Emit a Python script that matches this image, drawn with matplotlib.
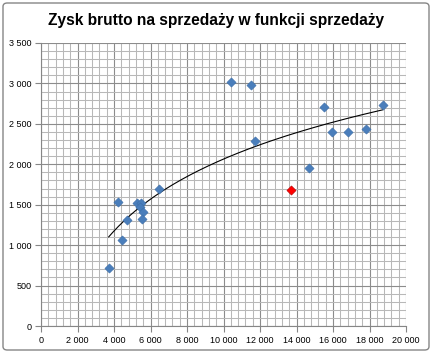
import numpy as np
import matplotlib
matplotlib.use("Agg")
import matplotlib.pyplot as plt
from matplotlib.patches import FancyBboxPatch
from matplotlib.ticker import MultipleLocator, FuncFormatter

title = "Zysk brutto na sprzedaży w funkcji sprzedaży"
sales = [3710, 4236, 4455, 4729, 5277, 5479, 5425, 5573, 5534, 6466,
         10429, 11490, 11742, 14685, 15490, 15945, 16822, 17808, 18721]
profit = [714, 1537, 1067, 1315, 1518, 1518, 1476, 1414, 1327, 1691,
          3014, 2977, 2292, 1958, 2709, 2403, 2395, 2432, 2738]
red_sales = [13699]
red_profit = [1686]

fig = plt.figure(figsize=(4.32, 3.53), dpi=100)
ax = fig.add_axes([41/432, 27/353, 365/432, 283/353])

ax.set_xlim(0, 20000)
ax.set_ylim(0, 3500)
ax.xaxis.set_major_locator(MultipleLocator(2000))
ax.xaxis.set_minor_locator(MultipleLocator(400))
ax.yaxis.set_major_locator(MultipleLocator(500))
ax.yaxis.set_minor_locator(MultipleLocator(100))
ax.grid(which="minor", color="#b8b8b8", linewidth=0.75)
ax.grid(which="major", color="#8c8c8c", linewidth=0.8)
ax.set_axisbelow(True)

fmt = FuncFormatter(lambda v, p: f"{int(v):,}".replace(",", " "))
ax.xaxis.set_major_formatter(fmt)
ax.yaxis.set_major_formatter(fmt)
ax.tick_params(which="major", length=4, width=0.8, color="#868686",
               labelsize=6.5, pad=3)
ax.tick_params(which="minor", length=0)
for lab in ax.get_xticklabels() + ax.get_yticklabels():
    lab.set_family("Liberation Sans")

for s in ["top", "right"]:
    ax.spines[s].set_visible(False)
for s in ["left", "bottom"]:
    ax.spines[s].set_color("#868686")
    ax.spines[s].set_linewidth(0.8)

# logarithmic trendline fitted on all points
xs_all = np.array(sales + red_sales, dtype=float)
ys_all = np.array(profit + red_profit, dtype=float)
a, b = np.polyfit(np.log(xs_all), ys_all, 1)
xt = np.linspace(xs_all.min(), xs_all.max(), 200)
ax.plot(xt, a * np.log(xt) + b, color="black", linewidth=0.8, zorder=2)

ax.scatter(sales, profit, marker="D", s=22, color="#4a7ebb",
           edgecolors="#3d6ea8", linewidths=0.4, zorder=3)
ax.scatter(red_sales, red_profit, marker="D", s=22, color="#ff0000",
           edgecolors="#b00000", linewidths=0.4, zorder=3)

fig.text(0.5, 1 - 20/353, title, ha="center", va="center",
         fontsize=11.2, fontweight="bold", family="Liberation Sans")

border = FancyBboxPatch((3/432, 3/353), 1 - 6/432, 1 - 6/353,
                        boxstyle="round,pad=0,rounding_size=0.01",
                        transform=fig.transFigure, fill=False,
                        edgecolor="#868686", linewidth=1)
fig.patches.append(border)

fig.savefig("out.png", dpi=100)
